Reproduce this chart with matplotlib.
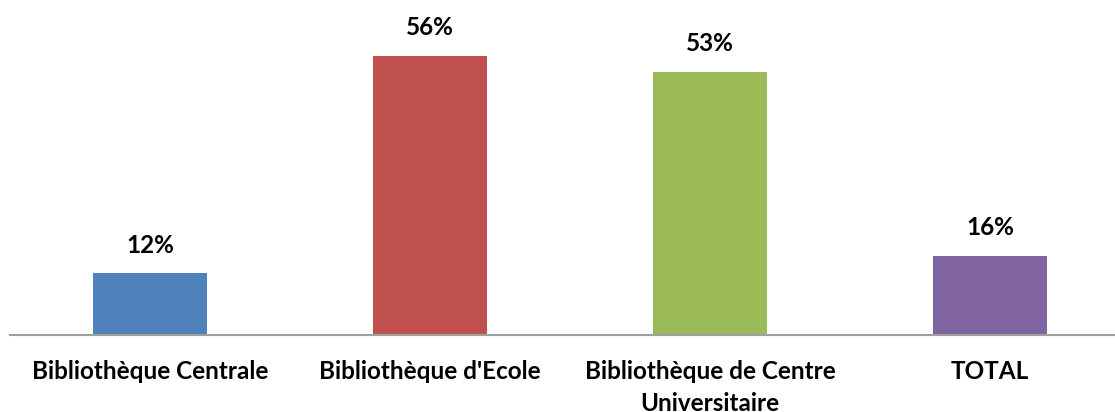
import matplotlib
matplotlib.use("Agg")
import matplotlib.pyplot as plt

# === Données ===
categories = ["Bibliothèque Centrale", "Bibliothèque d'Ecole",
              "Bibliothèque de Centre\nUniversitaire", "TOTAL"]
values = [0.124, 0.56, 0.528, 0.159]
labels = ["12%", "56%", "53%", "16%"]
colors = ["#4F81BD", "#C0504D", "#9BBB59", "#8064A2"]

plt.rcParams['font.family'] = ['Lato', 'DejaVu Sans']

fig = plt.figure(figsize=(11.15, 4.12), dpi=100)
# l'axe déborde à droite comme dans l'original (coupé)
ax = fig.add_axes([10 / 1115, 1 - 335 / 412, 1120 / 1115, 0.7257])

x = range(len(categories))
ax.bar(x, values, width=0.404, color=colors)
ax.set_xlim(-0.5, len(categories) - 0.5)
ax.set_ylim(0, 0.6)

for xi, v, lab in zip(x, values, labels):
    ax.annotate(lab, (xi, v), xytext=(0, 12), textcoords="offset points",
                ha="center", va="bottom", fontsize=17.5, fontweight="bold")

ax.set_xticks(list(x))
ax.set_xticklabels(categories, fontsize=17.5, fontweight="bold", linespacing=1.45)
ax.tick_params(axis="x", length=0, pad=18)
ax.set_yticks([])
for side in ["top", "right", "left"]:
    ax.spines[side].set_visible(False)
ax.spines["bottom"].set_color("#A0A0A0")
ax.spines["bottom"].set_linewidth(1.5)

fig.savefig("out.png", dpi=100)
